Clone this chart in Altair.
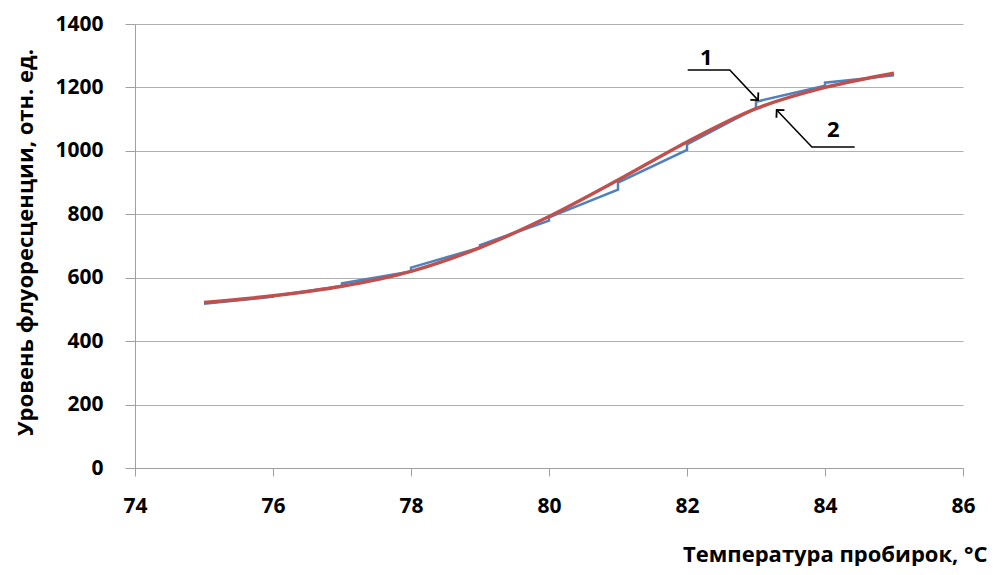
import altair as alt
import pandas as pd

# Series 1 (blue): piecewise segments with small jumps at each integer temperature
blue_x = [75, 76, 76, 77, 77, 78, 78, 79, 79, 80, 80, 81, 81, 82, 82, 83, 83, 84, 84, 85]
blue_y = [518, 540, 542, 574, 582, 620, 632, 695, 703, 780, 790, 878, 900, 1003, 1020, 1135, 1155, 1205, 1215, 1238]

# Series 2 (red): smooth curve
red_x = [75, 76, 77, 78, 79, 80, 81, 82, 83, 84, 85]
red_y = [522, 543, 573, 620, 695, 793, 908, 1028, 1133, 1200, 1245]

# Annotation leaders (data coordinates)
lead1_x = [82.01, 82.62, 83.03]
lead1_y = [1255, 1255, 1160]
lead2_x = [84.43, 83.81, 83.30]
lead2_y = [1012, 1012, 1129]
labels = ["1", "2"]
label_x = [82.28, 84.12]
label_y = [1293, 1066]
head_x = [83.03, 83.30]
head_y = [1160, 1129]
head_angle = [137, 317]

blue = pd.DataFrame({"t": blue_x, "v": blue_y, "o": list(range(len(blue_x)))})
red = pd.DataFrame({"t": red_x, "v": red_y})
lead = pd.DataFrame({
    "t": lead1_x + lead2_x,
    "v": lead1_y + lead2_y,
    "g": ["a"] * 3 + ["b"] * 3,
    "o": [0, 1, 2, 0, 1, 2],
})
lab = pd.DataFrame({"t": label_x, "v": label_y, "txt": labels})
heads = pd.DataFrame({"t": head_x, "v": head_y, "a": head_angle})

FONT = "Open Sans"

xs = alt.Scale(domain=[74, 86], nice=False, zero=False)
ys = alt.Scale(domain=[0, 1400], nice=False)

xenc = alt.X("t:Q", scale=xs, axis=alt.Axis(
    values=[74, 76, 78, 80, 82, 84, 86], grid=False, format="d", labelFlush=False,
    title="Температура пробирок, °С", titleAnchor="end", titleAlign="right",
    titleX=852, titleY=93, titleBaseline="alphabetic",
    labelFontSize=21, labelFontWeight="bold", labelFont=FONT, labelColor="black",
    titleFontSize=22, titleFontWeight="bold", titleFont=FONT, titleColor="black",
    domainColor="#a0a0a0", tickColor="#a0a0a0", tickSize=8, labelPadding=19,
))
yenc = alt.Y("v:Q", scale=ys, axis=alt.Axis(
    values=[0, 200, 400, 600, 800, 1000, 1200, 1400], gridColor="#b0b0b0", format="d",
    labelFlush=False,
    title="Уровень флуоресценции, отн. ед.", titleX=-98, titleY=218,
    titleFontSize=22, titleFontWeight="bold", titleFont=FONT, titleColor="black",
    labelFontSize=21, labelFontWeight="bold", labelFont=FONT, labelColor="black",
    domainColor="#a0a0a0", tickColor="#a0a0a0", tickSize=10, labelPadding=22,
))

blue_line = alt.Chart(blue).mark_line(color="#4F81BD", strokeWidth=2.5).encode(
    x=xenc, y=yenc, order="o:Q")
red_line = alt.Chart(red).mark_line(color="#C0504D", strokeWidth=3.5, interpolate="monotone").encode(
    x="t:Q", y="v:Q")
lead_line = alt.Chart(lead).mark_line(color="black", strokeWidth=1.5).encode(
    x="t:Q", y="v:Q", detail="g:N", order="o:Q")
head_mark = alt.Chart(heads).mark_point(
    shape="M -1 1 L 0 0 L 1 1", filled=False, color="black", strokeWidth=1.8, size=120, opacity=1
).encode(x="t:Q", y="v:Q", angle=alt.Angle("a:Q", scale=None))
lab_text = alt.Chart(lab).mark_text(fontSize=22, fontWeight="bold", font=FONT, color="black").encode(
    x="t:Q", y="v:Q", text="txt:N")

chart = alt.layer(blue_line, red_line, lead_line, head_mark, lab_text).properties(
    width=828, height=444,
    autosize=alt.AutoSizeParams(type="none"),
    padding={"left": 127, "top": 16, "right": 27, "bottom": 98},
).configure_view(stroke=None)

chart.save("out.html", embed_options={"renderer": "svg", "actions": False})
